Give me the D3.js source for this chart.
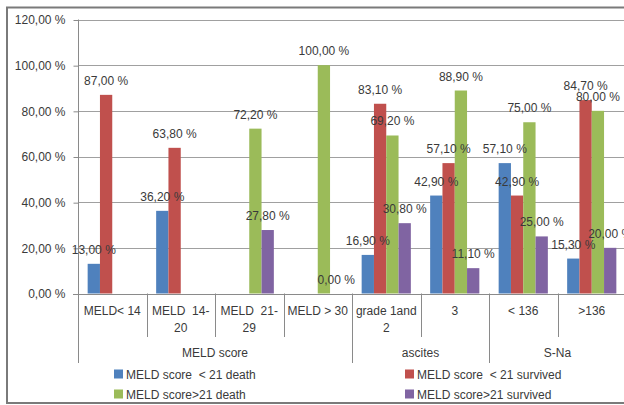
<!DOCTYPE html>
<html>
<head>
<meta charset="utf-8">
<script src="https://cdn.jsdelivr.net/npm/d3@7"></script>
<style>
  html, body { margin: 0; padding: 0; background: #fff; }
  svg { display: block; }
  text { font-family: "Liberation Sans", Arial, sans-serif; fill: #3a3a3a; }
</style>
</head>
<body>
<svg id="chart" width="624" height="405"></svg>
<script>
// Category labels (multi-line labels split by "\n")
const categories = ["MELD< 14", "MELD  14-\n20", "MELD  21-\n29", "MELD > 30",
                    "grade 1and\n2", "3", "< 136", ">136"];
// Groups spanning the categories
const groups = ["MELD score", "ascites", "S-Na"];
const groupSizes = [4, 2, 2];

const seriesNames = ["MELD score  < 21 death", "MELD score  < 21 survived",
                     "MELD score>21 death", "MELD score>21 survived"];
const seriesColors = ["#4F81BD", "#C0504D", "#9BBB59", "#8064A2"];

// Percentages per series; null = no value for that category
const lt21Death    = [13.0, 36.2, null, null, 16.9, 42.9, 57.1, 15.3];
const lt21Survived = [87.0, 63.8, null, null, 83.1, 57.1, 42.9, 84.7];
const gt21Death    = [null, null, 72.2, 100.0, 69.2, 88.9, 75.0, 80.0];
const gt21Survived = [null, null, 27.8, 0.0, 30.8, 11.1, 25.0, 20.0];
const seriesValues = [lt21Death, lt21Survived, gt21Death, gt21Survived];

const yTicks = [0, 20, 40, 60, 80, 100, 120];

const fmt = v => v.toFixed(2).replace(".", ",") + " %";

const svg = d3.select("#chart");

// outer frame
svg.append("rect")
  .attr("x", 7).attr("y", 7.5)
  .attr("width", 660).attr("height", 395.5)
  .attr("fill", "#fff")
  .attr("stroke", "#7a7a7a").attr("stroke-width", 2);

const plotLeft = 78, plotRight = 626, plotTop = 19.5, plotBottom = 293.5;

const y = d3.scaleLinear().domain([0, 120]).range([plotBottom, plotTop]);
const x = d3.scaleBand().domain(d3.range(categories.length))
  .range([plotLeft, plotRight]).paddingInner(0).paddingOuter(0);
const xs = d3.scaleBand().domain(d3.range(seriesNames.length))
  .range([0, x.bandwidth()]).paddingInner(0).paddingOuter(0.785);

// gridlines
svg.append("g")
  .selectAll("line")
  .data(yTicks.filter(t => t > 0))
  .join("line")
  .attr("x1", plotLeft).attr("x2", plotRight)
  .attr("y1", d => Math.round(y(d)) + 0.5).attr("y2", d => Math.round(y(d)) + 0.5)
  .attr("stroke", "#a0a0a0").attr("stroke-width", 1);

// y axis
const yAxis = svg.append("g")
  .attr("transform", `translate(${plotLeft + 0.5},0.5)`)
  .call(d3.axisLeft(y).tickValues(yTicks).tickFormat(fmt).tickSize(5).tickPadding(8));
yAxis.select(".domain").attr("stroke", "#8a8a8a").attr("d", `M-5,${plotTop}H0V${plotBottom}`);
yAxis.selectAll(".tick line").attr("stroke", "#8a8a8a");
yAxis.selectAll(".tick text")
  .style("font-size", "12px")
  .attr("fill", "#3a3a3a");
yAxis.select(".domain").remove();
svg.append("line")
  .attr("x1", plotLeft + 0.5).attr("x2", plotLeft + 0.5)
  .attr("y1", plotTop).attr("y2", 363)
  .attr("stroke", "#8a8a8a");

// baseline
svg.append("line")
  .attr("x1", plotLeft - 5).attr("x2", plotRight)
  .attr("y1", Math.round(y(0)) + 0.5).attr("y2", Math.round(y(0)) + 0.5)
  .attr("stroke", "#8a8a8a");

// bars
const barData = [];
seriesValues.forEach((vals, s) => {
  vals.forEach((v, c) => {
    if (v !== null) barData.push({ s, c, v });
  });
});

svg.append("g")
  .selectAll("rect")
  .data(barData)
  .join("rect")
  .attr("x", d => x(d.c) + xs(d.s))
  .attr("width", xs.bandwidth())
  .attr("y", d => y(d.v))
  .attr("height", d => y(0) - y(d.v))
  .attr("fill", d => seriesColors[d.s]);

// value labels on top
svg.append("g")
  .selectAll("text")
  .data(barData)
  .join("text")
  .attr("x", d => x(d.c) + xs(d.s) + xs.bandwidth() / 2)
  .attr("y", d => y(d.v) - 10)
  .attr("text-anchor", "middle")
  .style("font-size", "12px")
  .text(d => fmt(d.v));

// category separators
const boundaries = d3.range(1, categories.length).map(i => x(i));
let acc = 0;
const groupEdges = groupSizes.slice(0, -1).map(n => (acc += n));
svg.append("g")
  .selectAll("line")
  .data(d3.range(1, categories.length))
  .join("line")
  .attr("x1", i => Math.round(x(i)) + 0.5).attr("x2", i => Math.round(x(i)) + 0.5)
  .attr("y1", plotBottom)
  .attr("y2", i => groupEdges.includes(i) ? 363 : 337)
  .attr("stroke", "#8a8a8a");

// category labels
svg.append("g")
  .selectAll("text")
  .data(categories)
  .join("text")
  .attr("x", (d, i) => x(i) + x.bandwidth() / 2)
  .attr("y", 315)
  .attr("text-anchor", "middle")
  .style("font-size", "12px")
  .each(function (d) {
    const lines = d.split("\n");
    d3.select(this).selectAll("tspan")
      .data(lines)
      .join("tspan")
      .attr("x", d3.select(this).attr("x"))
      .attr("dy", (l, j) => j === 0 ? 0 : 16.5)
      .attr("xml:space", "preserve")
      .style("white-space", "pre")
      .text(l => l);
  });

// group labels
let start = 0;
const groupData = groups.map((g, k) => {
  const s = start; start += groupSizes[k];
  return { g, from: s, to: start };
});
svg.append("g")
  .selectAll("text")
  .data(groupData)
  .join("text")
  .attr("x", d => (x(d.from) + (d.to < categories.length ? x(d.to) : plotRight)) / 2)
  .attr("y", 357)
  .attr("text-anchor", "middle")
  .style("font-size", "12px")
  .text(d => d.g);

// legend (2 x 2)
const legendPos = [[114, 374], [405, 374], [114, 394], [405, 394]];
const legend = svg.append("g")
  .selectAll("g")
  .data(seriesNames)
  .join("g")
  .attr("transform", (d, i) => `translate(${legendPos[i][0]},${legendPos[i][1]})`);
legend.append("rect")
  .attr("x", 0).attr("y", -4.5).attr("width", 9).attr("height", 9)
  .attr("fill", (d, i) => seriesColors[i]);
legend.append("text")
  .attr("x", 12).attr("y", 4.5)
  .style("font-size", "12px")
  .style("white-space", "pre")
  .text(d => d);
</script>
</body>
</html>
